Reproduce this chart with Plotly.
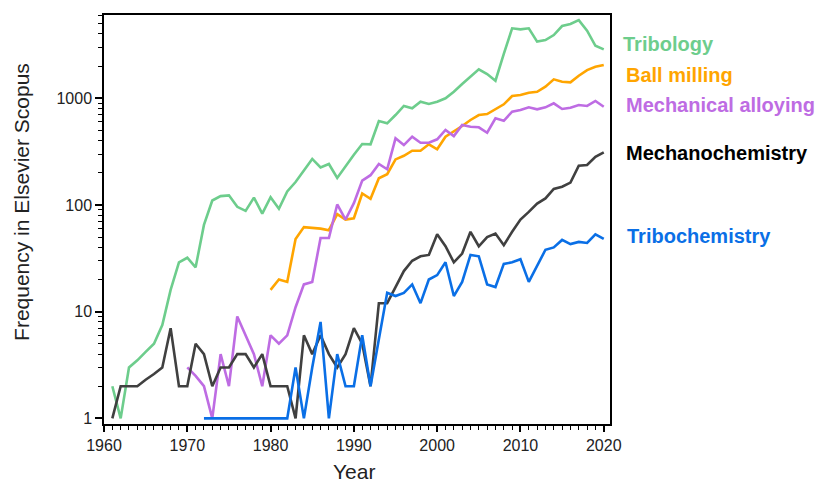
import plotly.graph_objects as go

years_tribology = list(range(1961, 2021))
tribology = [2, 1, 3, 3.5, 4.2, 5, 7.5, 16, 29, 32,
             26, 65, 110, 121, 123, 96, 88, 117, 83, 118,
             92, 134, 164, 210, 270, 225, 242, 179, 232, 295,
             372, 370, 611, 582, 696, 846, 804, 927, 883, 927,
             998, 1150, 1360, 1590, 1866, 1686, 1459, 2600, 4520, 4420,
             4520, 3390, 3510, 3910, 4750, 4960, 5400, 4300, 3100, 2870]

years_ball = list(range(1980, 2021))
ball_milling = [16, 20, 19, 48, 62, 61, 60, 58, 82, 73,
                75, 128, 114, 178, 194, 267, 289, 322, 322, 370,
                332, 436, 486, 549, 625, 696, 711, 787, 877, 1050,
                1071, 1127, 1150, 1282, 1503, 1429, 1410, 1626, 1837, 1972,
                2050]

years_alloy = list(range(1970, 2021))
mech_alloying = [3, 2.5, 2, 1, 4, 2, 9, 6, 4, 2,
                 6, 5, 6, 11, 18, 19, 49, 49, 101, 73,
                 104, 169, 190, 242, 216, 421, 364, 436, 383, 383,
                 412, 504, 442, 561, 541, 534, 475, 648, 615, 748,
                 775, 822, 787, 822, 896, 793, 815, 864, 846, 942,
                 832]

years_mechano = list(range(1961, 2021))
mechanochemistry = [1, 2, 2, 2, 2.3, 2.6, 3, 7, 2, 2,
                    5, 4, 2, 3, 3, 4, 4, 3, 4, 2,
                    2, 2, 1, 6, 4, 6, 4, 3, 4, 7,
                    5, 2, 12, 12, 17, 24, 30, 33, 34, 53,
                    41, 29, 35, 56, 41, 50, 54, 42, 56, 73,
                    86, 103, 115, 141, 148, 162, 233, 237, 283, 311]

years_tribochem = list(range(1972, 2021))
tribochemistry = [1, 1, 1, 1, 1, 1, 1, 1, 1, 1,
                  1, 3, 1, 3, 8, 1, 4, 2, 2, 6,
                  2, 5.5, 15, 14, 15, 18, 12, 20, 22, 29,
                  14, 19, 34, 33, 18, 17, 28, 29, 31, 19,
                  27, 38, 40, 47, 43, 45, 44, 53, 48]

x_tick_vals = [1960, 1970, 1980, 1990, 2000, 2010, 2020]
y_tick_vals = [1, 10, 100, 1000]
y_tick_text = ["1", "10", "100", "1000"]

series = [
    ("Tribology", years_tribology, tribology, "#6DCD8C", "#6DCD8C"),
    ("Ball milling", years_ball, ball_milling, "#FFA500", "#FFA500"),
    ("Mechanical alloying", years_alloy, mech_alloying, "#BE6CE3", "#BE6CE3"),
    ("Mechanochemistry", years_mechano, mechanochemistry, "#404040", "#000000"),
    ("Tribochemistry", years_tribochem, tribochemistry, "#0A6FE6", "#0A6FE6"),
]

# right-side label anchors (paper coords)
label_pos = {
    "Tribology": (1.022, 0.929),
    "Ball milling": (1.028, 0.853),
    "Mechanical alloying": (1.028, 0.780),
    "Mechanochemistry": (1.028, 0.663),
    "Tribochemistry": (1.030, 0.460),
}

FONT = "Arial, Liberation Sans, sans-serif"

fig = go.Figure()
for name, xs, ys, lc, tc in series:
    fig.add_trace(go.Scatter(x=xs, y=ys, mode="lines", name=name,
                             line=dict(color=lc, width=2.6)))
    px, py = label_pos[name]
    fig.add_annotation(x=px, y=py, xref="paper", yref="paper", text=f"<b>{name}</b>",
                       showarrow=False, xanchor="left", yanchor="middle",
                       font=dict(family=FONT, size=20, color=tc))

# axis titles
fig.add_annotation(x=-0.162, y=0.543, xref="paper", yref="paper",
                   text="Frequency in Elsevier Scopus", textangle=-90, showarrow=False,
                   xanchor="center", yanchor="middle",
                   font=dict(family=FONT, size=21, color="#222222"))
fig.add_annotation(x=0.494, y=-0.115, xref="paper", yref="paper",
                   text="Year", showarrow=False, xanchor="center", yanchor="middle",
                   font=dict(family=FONT, size=21, color="#222222"))

minor_vals = []
for dec in [1, 10, 100, 1000]:
    for k in range(2, 10):
        minor_vals.append(k * dec)

fig.update_layout(
    width=828, height=482,
    margin=dict(l=96, r=226, t=7, b=66),
    paper_bgcolor="white", plot_bgcolor="white",
    showlegend=False,
    font=dict(family=FONT, size=16, color="#222222"),
    xaxis=dict(range=[1960, 2020.75], tickmode="array", tickvals=x_tick_vals,
               ticks="outside", ticklen=6, tickwidth=1.5, tickcolor="black",
               showline=True, linecolor="black", linewidth=1.5, mirror=True,
               showgrid=False, zeroline=False, automargin=False,
               minor=dict(ticks="outside", ticklen=4, tickwidth=1.2, tickcolor="black",
                          dtick=1, showgrid=False),
               tickfont=dict(size=16, family=FONT)),
    yaxis=dict(type="log", range=[-0.053, 3.78], tickmode="array",
               tickvals=y_tick_vals, ticktext=y_tick_text,
               ticks="outside", ticklen=7, tickwidth=1.5, tickcolor="black",
               showline=True, linecolor="black", linewidth=1.5, mirror=True,
               showgrid=False, zeroline=False, automargin=False,
               minor=dict(ticks="outside", ticklen=4, tickwidth=1.2, tickcolor="black",
                          tickmode="array", tickvals=minor_vals, showgrid=False),
               tickfont=dict(size=16, family=FONT)),
)

fig.write_html("out.html")
